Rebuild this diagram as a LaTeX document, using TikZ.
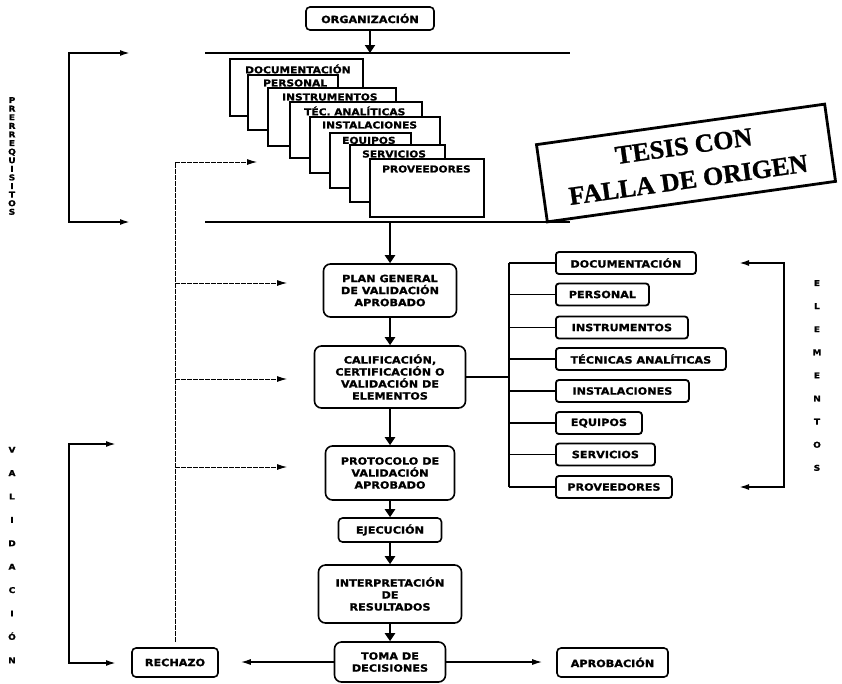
\documentclass[tikz,border=0pt]{standalone}
\usepackage{fontspec}
\newfontfamily\labfont[FakeStretch=1.12, BoldFeatures={FakeBold=1.2}]{DejaVu Sans}
\newfontfamily\stampfont[BoldFeatures={FakeBold=1}]{Liberation Serif}
\usetikzlibrary{arrows.meta,calc}
\tikzset{
 lab/.style={font=\labfont\bfseries\fontsize{10}{12}\selectfont},
 mainbox/.style={lab, draw, line width=1.6pt, rounded corners=7pt, align=center, inner sep=0pt},
 elbox/.style={lab, draw, line width=1.8pt, rounded corners=3pt, inner sep=0pt, minimum height=22pt, anchor=west},
 card/.style={draw, line width=2pt, fill=white, inner sep=0pt},
 cardlab/.style={font=\labfont\bfseries\fontsize{9.5}{11}\selectfont, anchor=west, inner sep=0pt},
 mainarrow/.style={line width=2.6pt, -{Triangle[length=8pt,width=10pt]}},
 thinarrow/.style={line width=1.4pt, -{Latex[length=10pt,width=6pt]}},
 fbline/.style={line width=0.9pt, dash pattern=on 5pt off 1pt},
 fbarrow/.style={fbline, -{Latex[length=10pt,width=6pt]}},
 brk/.style={line width=1.8pt, {Latex[length=10pt,width=6pt]}-{Latex[length=10pt,width=6pt]}},
 tree/.style={line width=1.8pt},
 hline/.style={line width=1.5pt},
 vletters/.style={font=\labfont\bfseries\fontsize{8}{#1}\selectfont, align=center, inner sep=0pt},
}
\begin{document}
\begin{tikzpicture}[x=1pt,y=-1pt]
\fill[white] (0,0) rectangle (842,683);
\useasboundingbox (0,0) rectangle (842,683);

% side letters
\node[vletters=8.6] (prer) at (12,156) {P\\R\\E\\R\\R\\E\\Q\\U\\I\\S\\I\\T\\O\\S};
\node[vletters=23.4] (vali) at (12,555) {V\\A\\L\\I\\D\\A\\C\\I\\Ó\\N};
\node[vletters=23.1] (elem) at (817,375.5) {E\\L\\E\\M\\E\\N\\T\\O\\S};

% top organisation
\node[mainbox, minimum width=128pt, minimum height=23pt, rounded corners=4pt] (org) at (370,18.5) {ORGANIZACIÓN};
\coordinate (tl1) at (205,53);
\coordinate (tl2) at (570,53);
\coordinate (bl1) at (205,222);
\coordinate (bl2) at (570,222);
\draw[hline] (tl1) -- (tl2);
\draw[hline] (bl1) -- (bl2);
\draw[mainarrow] (org.south) -- (org.south |- tl1);

% prerequisite bracket
\coordinate (pa1) at (130,53);
\coordinate (p1) at (69,53);
\coordinate (p2) at (69,222);
\coordinate (pa2) at (130,222);
\draw[brk] (pa1) -- (p1) -- (p2) -- (pa2);

% stacked cards
\node[card, minimum width=133pt, minimum height=57pt] (c1) at (296.5,87.5) {};
\node[cardlab] at ($(c1.north west)+(16,11)$) {DOCUMENTACIÓN};
\node[card, minimum width=90pt, minimum height=55pt] (c2) at (293,102.5) {};
\node[cardlab] at ($(c2.north west)+(16,9)$) {PERSONAL};
\node[card, minimum width=128pt, minimum height=58pt] (c3) at (332,117) {};
\node[cardlab] at ($(c3.north west)+(15,10)$) {INSTRUMENTOS};
\node[card, minimum width=132pt, minimum height=56pt] (c4) at (356,130) {};
\node[cardlab] at ($(c4.north west)+(15,10)$) {TÉC. ANALÍTICAS};
\node[card, minimum width=130pt, minimum height=56pt] (c5) at (375,145) {};
\node[cardlab] at ($(c5.north west)+(13,9)$) {INSTALACIONES};
\node[card, minimum width=81pt, minimum height=55pt] (c6) at (370.5,160.5) {};
\node[cardlab] at ($(c6.north west)+(13,9)$) {EQUIPOS};
\node[card, minimum width=95pt, minimum height=57pt] (c7) at (397.5,173.5) {};
\node[cardlab] at ($(c7.north west)+(13,10)$) {SERVICIOS};
\node[card, minimum width=114pt, minimum height=58pt] (c8) at (427,188) {};
\node[cardlab] at ($(c8.north west)+(13,11)$) {PROVEEDORES};

% stamp
\node[draw, line width=2.8pt, rotate=8, minimum width=291pt, minimum height=78pt, inner sep=0pt, align=center,
      font=\stampfont\bfseries\fontsize{26}{34}\selectfont] (stamp) at (686,163) {TESIS CON\\FALLA DE ORIGEN};

% main column
\node[mainbox, minimum width=133pt, minimum height=53pt] (plan) at (390,290.5) {PLAN GENERAL\\DE VALIDACIÓN\\APROBADO};
\node[mainbox, minimum width=151pt, minimum height=62pt] (calif) at (390,377) {CALIFICACIÓN,\\CERTIFICACIÓN O\\VALIDACIÓN DE\\ELEMENTOS};
\node[mainbox, minimum width=129pt, minimum height=54pt] (prot) at (390,473) {PROTOCOLO DE\\VALIDACIÓN\\APROBADO};
\node[mainbox, minimum width=103pt, minimum height=24pt, rounded corners=4pt] (ejec) at (390,530) {EJECUCIÓN};
\node[mainbox, minimum width=143pt, minimum height=58pt] (interp) at (390,594) {INTERPRETACIÓN\\DE\\RESULTADOS};
\node[mainbox, minimum width=111pt, minimum height=40pt] (toma) at (390,662) {TOMA DE\\DECISIONES};
\node[mainbox, minimum width=86pt, minimum height=29pt, rounded corners=4pt] (rech) at (175,662.5) {RECHAZO};
\node[mainbox, minimum width=111pt, minimum height=29pt, rounded corners=4pt] (apro) at (612.5,662.5) {APROBACIÓN};

\draw[mainarrow] (plan.north |- bl1) -- (plan.north);
\draw[mainarrow] (plan.south) -- (calif.north);
\draw[mainarrow] (calif.south) -- (prot.north);
\draw[mainarrow] (prot.south) -- (ejec.north);
\draw[mainarrow] (ejec.south) -- (interp.north);
\draw[mainarrow] (interp.south) -- (toma.north);
\draw[thinarrow, shorten >=22pt] (toma.west) -- (toma.west -| rech.east);
\draw[thinarrow, shorten >=14pt] (toma.east) -- (toma.east -| apro.west);

% feedback line from RECHAZO
\coordinate (fb1) at (175,162);
\coordinate (fb2) at (175,283);
\coordinate (fb3) at (175,379);
\coordinate (fb4) at (175,467);
\coordinate (ft1) at (257,162);
\coordinate (ft2) at (287,283);
\coordinate (ft3) at (287,379);
\coordinate (ft4) at (287,467);
\draw[fbline, shorten <=5pt] (rech.north) -- (fb1);
\draw[fbarrow] (fb1) -- (ft1);
\draw[fbarrow] (fb2) -- (ft2);
\draw[fbarrow] (fb3) -- (ft3);
\draw[fbarrow] (fb4) -- (ft4);

% validation bracket
\coordinate (va1) at (116,444);
\coordinate (v1) at (69,444);
\coordinate (v2) at (69,663);
\coordinate (va2) at (116,663);
\draw[brk] (va1) -- (v1) -- (v2) -- (va2);

% elements
\node[elbox, minimum width=140pt] (e1) at (555,263) {DOCUMENTACIÓN};
\node[elbox, minimum width=93pt] (e2) at (555,294.5) {PERSONAL};
\node[elbox, minimum width=132pt] (e3) at (555,327.5) {INSTRUMENTOS};
\node[elbox, minimum width=170pt] (e4) at (555,359) {TÉCNICAS ANALÍTICAS};
\node[elbox, minimum width=133pt] (e5) at (555,391) {INSTALACIONES};
\node[elbox, minimum width=86pt] (e6) at (555,423) {EQUIPOS};
\node[elbox, minimum width=99pt] (e7) at (555,454.5) {SERVICIOS};
\node[elbox, minimum width=116pt] (e8) at (555,487) {PROVEEDORES};

\coordinate (tk1) at (509,263);
\coordinate (tk2) at (509,487);
\draw[tree] (tk1) -- (tk2);
\draw[tree] (calif.east) -- (calif.east -| tk1);
\foreach \e in {e1,e2,e3,e4,e5,e6,e7,e8}{
  \draw[tree] (\e.west -| tk1) -- (\e.west);
}

% elements bracket
\coordinate (ea1) at (739,263);
\coordinate (eb1) at (784,263);
\coordinate (eb2) at (784,487);
\coordinate (ea2) at (739,487);
\draw[brk] (ea1) -- (eb1) -- (eb2) -- (ea2);
\end{tikzpicture}
\end{document}
